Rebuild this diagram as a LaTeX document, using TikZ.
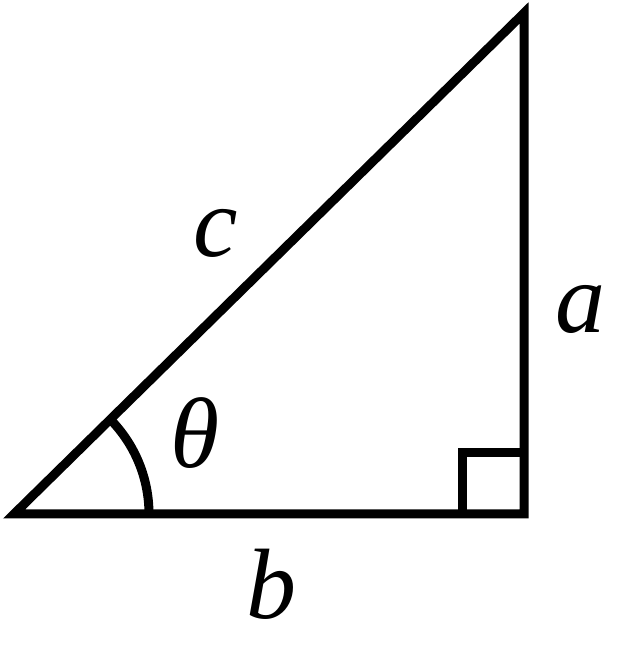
\documentclass[tikz,border=0pt]{standalone}
\usepackage{fontspec}
\setmainfont{Liberation Serif}
\begin{document}
\begin{tikzpicture}[x=1pt,y=1pt,
  edge/.style={line width=9pt,line join=miter},
  lbl/.style={inner sep=0pt,font=\fontsize{100}{120}\selectfont\itshape}]
\useasboundingbox (0,0) rectangle (635,651);
\coordinate (A) at (14,137);
\coordinate (B) at (524,137);
\coordinate (C) at (524,638);
\draw[edge] (A) -- (B) -- (C) -- cycle;
\draw[edge] (462,137) -- (462,198) -- (524,198);
\draw[edge] ([xshift=135pt]A) arc[start angle=0,end angle=44.5,radius=135];
\node[lbl] (c) at (216,418) {c};
\node[lbl] (a) at (580,342) {a};
\node[lbl] (t) at (195,218) {θ};
\node[lbl] (b) at (271,67) {b};
\end{tikzpicture}
\end{document}
